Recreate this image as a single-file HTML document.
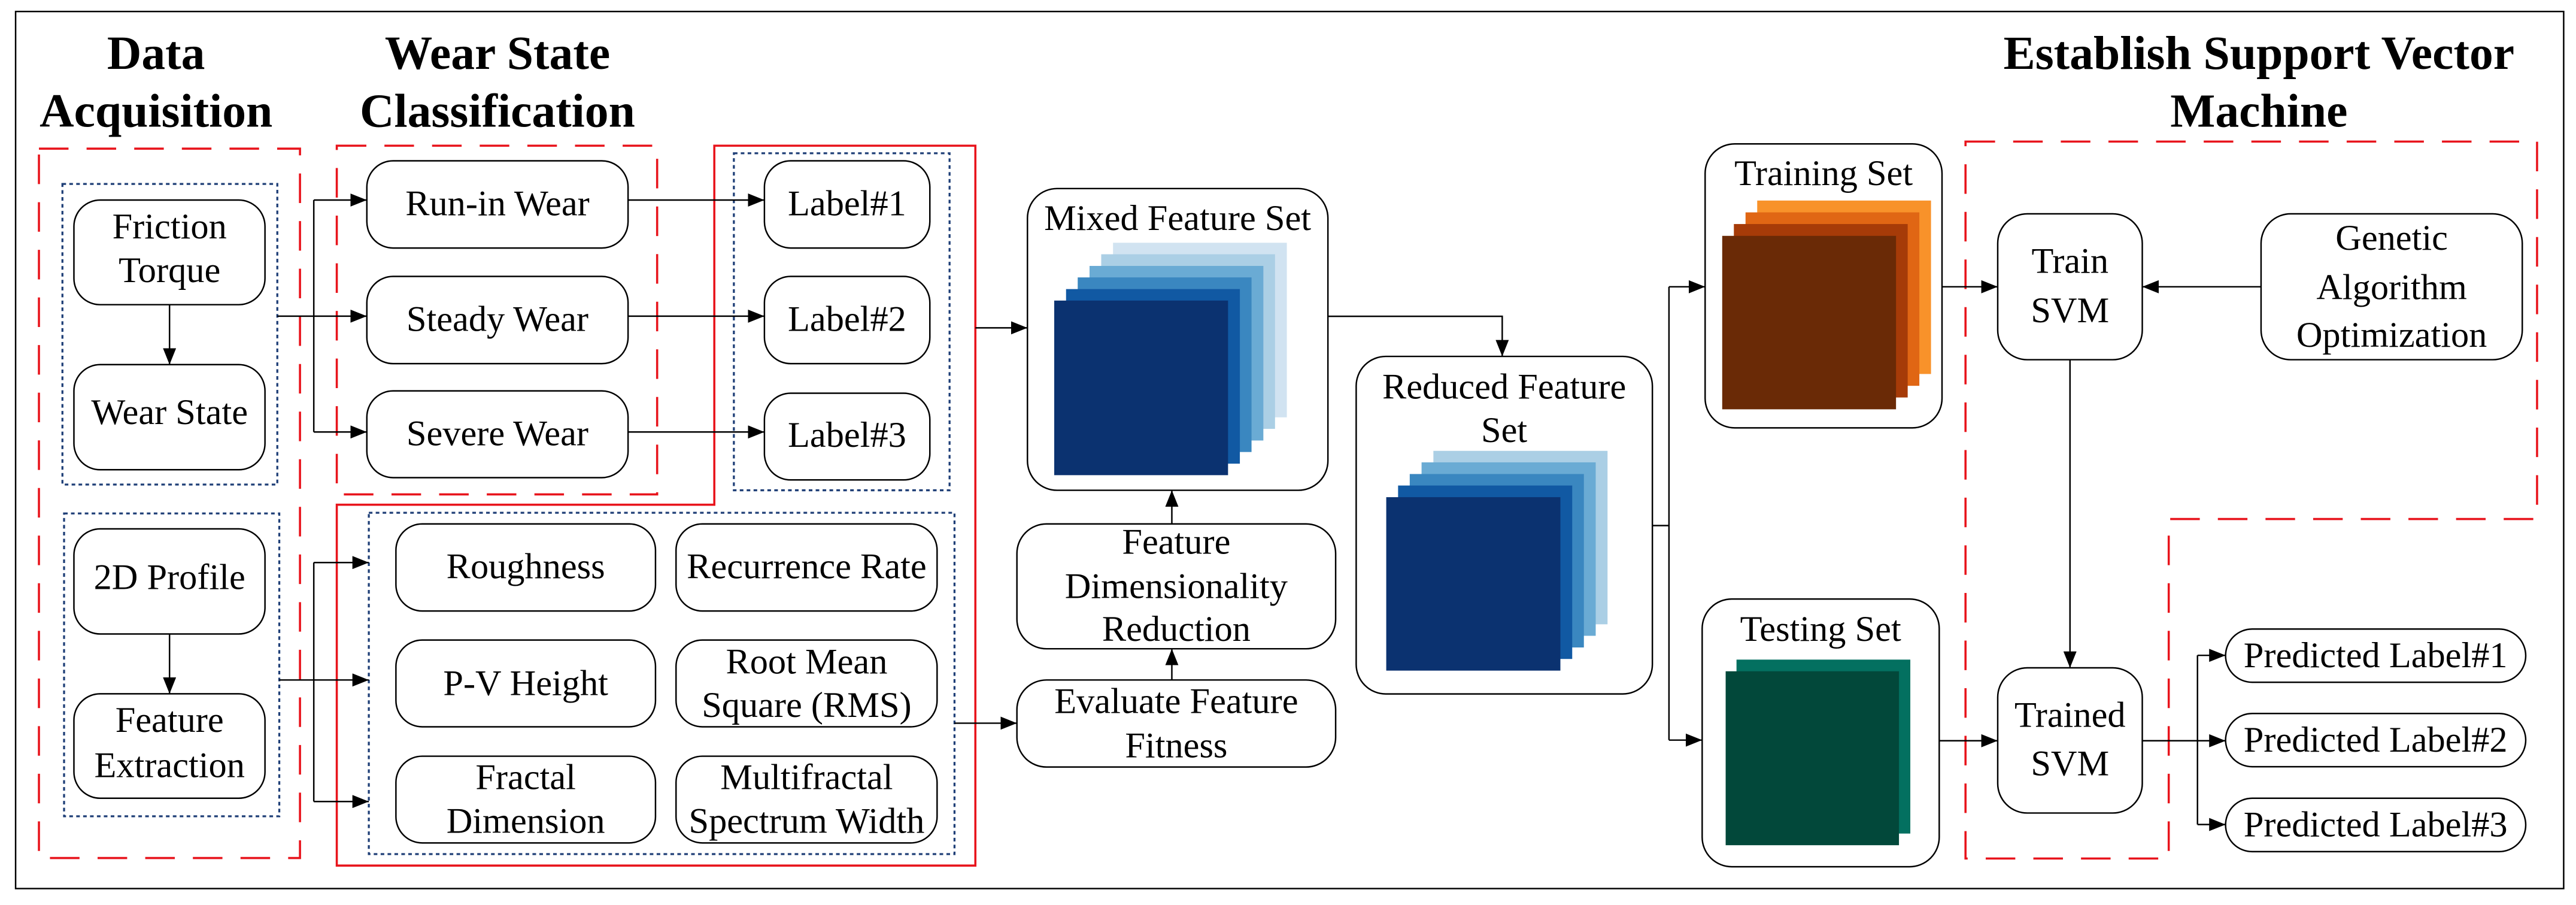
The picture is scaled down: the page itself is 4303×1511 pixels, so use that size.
<!DOCTYPE html>
<html><head><meta charset="utf-8"><style>
html,body{margin:0;padding:0;background:#fff;font-family:"Liberation Serif","DejaVu Serif",serif;}
svg{display:block;}
svg text{font-family:"Liberation Serif","DejaVu Serif",serif;fill:#000;}
</style></head><body>
<svg width="4303" height="1511" viewBox="0 0 1568 551" preserveAspectRatio="none" xmlns="http://www.w3.org/2000/svg" font-family="Liberation Serif, DejaVu Serif, serif">
<defs>
<marker id="a" viewBox="0 0 10 8" refX="10" refY="4" markerWidth="10" markerHeight="8" markerUnits="userSpaceOnUse" orient="auto">
<path d="M0,0 L10,4 L0,8 z" fill="#000"/></marker>
</defs>
<rect x="9.5" y="7" width="1551" height="534" fill="none" stroke="#000" stroke-width="0.9"/>

<g font-family="Liberation Serif, DejaVu Serif, serif" font-weight="bold" font-size="29" text-anchor="middle" dominant-baseline="central">
<text x="95" y="32.4">Data</text><text x="95" y="67.6">Acquisition</text>
<text x="302.8" y="32.4">Wear State</text><text x="302.8" y="67.6">Classification</text>
<text x="1375" y="32.4">Establish Support Vector</text><text x="1375" y="67.6">Machine</text>
</g>

<g fill="none" stroke="#e8141c" stroke-width="1.3" stroke-dasharray="18,11">
<rect x="23.7" y="90.5" width="158.9" height="431.9"/>
<rect x="205" y="88.7" width="195" height="212.3"/>
<path d="M1196.4,86.2 H1544.3 V316 H1320.1 V522.7 H1196.4 Z"/>
</g>
<path d="M434.8,88.7 H593.7 V527 H205 V307.3 H434.8 Z" fill="none" stroke="#e8141c" stroke-width="1.3"/>

<g fill="none" stroke="#1f3f77" stroke-width="1.2" stroke-dasharray="2.2,2">
<rect x="38" y="112" width="130.8" height="183"/>
<rect x="39" y="312.6" width="131" height="184.4"/>
<rect x="446.7" y="93.3" width="131.3" height="205.2"/>
<rect x="224.5" y="312.2" width="356.5" height="207.8"/>
</g>

<g fill="#fff" stroke="#000" stroke-width="0.9">
<rect x="45" y="121.8" width="116.3" height="63.7" rx="16"/>
<rect x="45" y="222" width="116.3" height="64" rx="16"/>
<rect x="45" y="322" width="116.3" height="64" rx="16"/>
<rect x="45" y="422.4" width="116.3" height="63.6" rx="16"/>
<rect x="223.3" y="97.9" width="159" height="53.1" rx="16"/>
<rect x="223.3" y="168.3" width="159" height="53.1" rx="16"/>
<rect x="223.3" y="238" width="159" height="52.8" rx="16"/>
<rect x="465.3" y="97.9" width="100.7" height="53.1" rx="16"/>
<rect x="465.3" y="168.3" width="100.7" height="53.1" rx="16"/>
<rect x="465.3" y="239.4" width="100.7" height="52.8" rx="16"/>
<rect x="241" y="319" width="158" height="53" rx="16"/>
<rect x="411.5" y="319" width="158.9" height="53" rx="16"/>
<rect x="241" y="389.7" width="158" height="52.8" rx="16"/>
<rect x="411.5" y="389.7" width="158.9" height="52.8" rx="16"/>
<rect x="241" y="460.4" width="158" height="52.8" rx="16"/>
<rect x="411.5" y="460.4" width="158.9" height="52.8" rx="16"/>
<rect x="625.4" y="114.8" width="182.9" height="183.7" rx="18"/>
<rect x="619" y="319" width="194" height="76" rx="18"/>
<rect x="619" y="414" width="194" height="53" rx="18"/>
<rect x="825.5" y="217" width="180.3" height="205.5" rx="18"/>
<rect x="1037.9" y="87.6" width="144.2" height="172.9" rx="18"/>
<rect x="1036.1" y="364.7" width="144.3" height="163" rx="18"/>
<rect x="1216" y="130.2" width="88" height="88.8" rx="18"/>
<rect x="1376.3" y="130.2" width="159" height="88.8" rx="18"/>
<rect x="1216" y="406.6" width="88" height="88.4" rx="18"/>
<rect x="1354.7" y="383" width="182.7" height="32.4" rx="16.2"/>
<rect x="1354.7" y="434.4" width="182.7" height="32.4" rx="16.2"/>
<rect x="1354.7" y="486" width="182.7" height="32.5" rx="16.2"/>
</g>

<rect x="677.5" y="147.8" width="105.8" height="106.3" fill="#d1e3f1"/>
<rect x="670.3" y="154.8" width="105.8" height="106.3" fill="#abcfe5"/>
<rect x="663.2" y="161.9" width="105.8" height="106.3" fill="#6aabd4"/>
<rect x="656" y="168.9" width="105.8" height="106.3" fill="#3a87c0"/>
<rect x="648.9" y="176" width="105.8" height="106.3" fill="#1159a3"/>
<rect x="641.7" y="183" width="105.8" height="106.3" fill="#0b3270"/>
<rect x="872.5" y="274.5" width="106" height="105.6" fill="#abcfe5"/>
<rect x="865.3" y="281.5" width="106" height="105.6" fill="#6aabd4"/>
<rect x="858.1" y="288.6" width="106" height="105.6" fill="#3a87c0"/>
<rect x="851" y="295.6" width="106" height="105.6" fill="#1159a3"/>
<rect x="843.8" y="302.7" width="106" height="105.6" fill="#0b3270"/>
<rect x="1069.6" y="122.1" width="105.8" height="105.6" fill="#f8922a"/>
<rect x="1062.5" y="129.3" width="105.8" height="105.6" fill="#e06614"/>
<rect x="1055.4" y="136.4" width="105.8" height="105.6" fill="#a63b08"/>
<rect x="1048.3" y="143.6" width="105.8" height="105.6" fill="#6a2a06"/>
<rect x="1057" y="401.6" width="105.8" height="105.9" fill="#037060"/>
<rect x="1050.4" y="408.7" width="105.5" height="105.9" fill="#02483a"/>

<g fill="none" stroke="#000" stroke-width="0.9">
<line x1="103.2" y1="185.5" x2="103.2" y2="222" marker-end="url(#a)"/>
<line x1="103.2" y1="386" x2="103.2" y2="422.4" marker-end="url(#a)"/>
<polyline points="168.8,192.5 191,192.5"/>
<polyline points="191,121.8 191,263"/>
<line x1="191" y1="121.8" x2="223.3" y2="121.8" marker-end="url(#a)"/>
<line x1="191" y1="192.5" x2="223.3" y2="192.5" marker-end="url(#a)"/>
<line x1="191" y1="263" x2="223.3" y2="263" marker-end="url(#a)"/>
<polyline points="170,414 191,414"/>
<polyline points="191,342.5 191,488"/>
<line x1="191" y1="342.5" x2="224.5" y2="342.5" marker-end="url(#a)"/>
<line x1="191" y1="414" x2="224.5" y2="414" marker-end="url(#a)"/>
<line x1="191" y1="488" x2="224.5" y2="488" marker-end="url(#a)"/>
<line x1="382.3" y1="121.8" x2="465.3" y2="121.8" marker-end="url(#a)"/>
<line x1="382.3" y1="192.5" x2="465.3" y2="192.5" marker-end="url(#a)"/>
<line x1="382.3" y1="263" x2="465.3" y2="263" marker-end="url(#a)"/>
<line x1="593.7" y1="199.6" x2="625.4" y2="199.6" marker-end="url(#a)"/>
<line x1="581" y1="440.3" x2="619" y2="440.3" marker-end="url(#a)"/>
<line x1="713.3" y1="414" x2="713.3" y2="395" marker-end="url(#a)"/>
<line x1="713.3" y1="319" x2="713.3" y2="298.5" marker-end="url(#a)"/>
<polyline points="808.3,192.6 914.4,192.6 914.4,217" marker-end="url(#a)"/>
<polyline points="1005.8,320 1015.9,320"/>
<polyline points="1015.9,174.6 1015.9,450.6"/>
<line x1="1015.9" y1="174.6" x2="1037.9" y2="174.6" marker-end="url(#a)"/>
<line x1="1015.9" y1="450.6" x2="1036.1" y2="450.6" marker-end="url(#a)"/>
<line x1="1182.1" y1="174.6" x2="1216" y2="174.6" marker-end="url(#a)"/>
<line x1="1376.3" y1="174.6" x2="1304" y2="174.6" marker-end="url(#a)"/>
<line x1="1260" y1="219" x2="1260" y2="406.6" marker-end="url(#a)"/>
<line x1="1180.4" y1="451" x2="1216" y2="451" marker-end="url(#a)"/>
<line x1="1304" y1="451" x2="1354.7" y2="451" marker-end="url(#a)"/>
<polyline points="1337.6,399 1337.6,502"/>
<line x1="1337.6" y1="399" x2="1354.7" y2="399" marker-end="url(#a)"/>
<line x1="1337.6" y1="502" x2="1354.7" y2="502" marker-end="url(#a)"/>
</g>

<g font-family="Liberation Serif, DejaVu Serif, serif" font-size="22" text-anchor="middle" dominant-baseline="central">
<text x="103.2" y="138">Friction</text><text x="103.2" y="164.7">Torque</text>
<text x="103.2" y="251">Wear State</text>
<text x="103.2" y="351.6">2D Profile</text>
<text x="103.2" y="438.6">Feature</text><text x="103.2" y="466">Extraction</text>
<text x="302.8" y="124">Run-in Wear</text>
<text x="302.8" y="194.3">Steady Wear</text>
<text x="302.8" y="264">Severe Wear</text>
<text x="515.6" y="124">Label#1</text>
<text x="515.6" y="194.3">Label#2</text>
<text x="515.6" y="265">Label#3</text>
<text x="320" y="345">Roughness</text>
<text x="491" y="345">Recurrence Rate</text>
<text x="320" y="416">P-V Height</text>
<text x="491" y="403">Root Mean</text><text x="491" y="429.4">Square (RMS)</text>
<text x="320" y="473.4">Fractal</text><text x="320" y="500">Dimension</text>
<text x="491" y="473.4">Multifractal</text><text x="491" y="500">Spectrum Width</text>
<text x="716.8" y="133">Mixed Feature Set</text>
<text x="716" y="330">Feature</text><text x="716" y="357">Dimensionality</text><text x="716" y="383">Reduction</text>
<text x="716" y="427">Evaluate Feature</text><text x="716" y="454">Fitness</text>
<text x="915.6" y="235.5">Reduced Feature</text><text x="915.6" y="262">Set</text>
<text x="1110" y="105.6">Training Set</text>
<text x="1108.2" y="383">Testing Set</text>
<text x="1260" y="159">Train</text><text x="1260" y="189">SVM</text>
<text x="1455.8" y="145">Genetic</text><text x="1455.8" y="175">Algorithm</text><text x="1455.8" y="204">Optimization</text>
<text x="1260" y="435.4">Trained</text><text x="1260" y="465">SVM</text>
<text x="1446" y="399.2">Predicted Label#1</text>
<text x="1446" y="450.6">Predicted Label#2</text>
<text x="1446" y="502.2">Predicted Label#3</text>
</g>
</svg>
</body></html>
